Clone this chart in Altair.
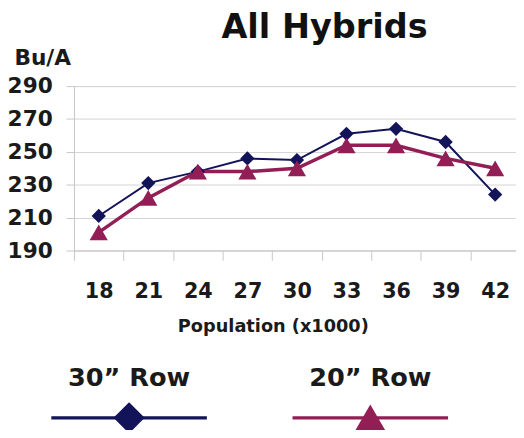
import altair as alt
import pandas as pd

populations = [18, 21, 24, 27, 30, 33, 36, 39, 42]
row30 = [211, 231, 238, 246, 245, 261, 264, 256, 224]
row20 = [201, 222, 238, 238, 240, 254, 254, 246, 240]
series_names = ['30\u201d Row', '20\u201d Row']
y_ticks = [190, 210, 230, 250, 270, 290]

NAVY = "#13135a"
MAROON = "#921e55"
FONT = "DejaVu Sans"

rows = []
for s, vals in zip(series_names, [row30, row20]):
    for p, v in zip(populations, vals):
        rows.append({"series": s, "pop": p, "yield": v})
df = pd.DataFrame(rows)
legend_df = pd.DataFrame({"series": series_names})

color_scale = alt.Scale(domain=series_names, range=[NAVY, MAROON])
shape_scale = alt.Scale(domain=series_names, range=["diamond", "triangle-up"])

x_enc = alt.X(
    "pop:O",
    scale=alt.Scale(type="band", paddingInner=0, paddingOuter=0, range=[0, 453]),
    bandPosition=0.5,
    axis=alt.Axis(
        title="Population (x1000)", labelAngle=0, tickBand="extent",
        tickSize=10, tickColor="#c8c8c8", domainColor="#c8c8c8",
        labelFont=FONT, labelFontWeight="bold", labelFontSize=21,
        labelColor="#1a1a1a", labelPadding=21,
        titleFont=FONT, titleFontWeight="bold", titleFontSize=18,
        titleColor="#1a1a1a", titlePadding=16, grid=False,
        titleX=202,
    ),
)
y_enc = alt.Y(
    "yield:Q",
    scale=alt.Scale(domain=[190, 290], nice=False, zero=False),
    axis=alt.Axis(
        values=y_ticks, title="Bu/A", grid=True, gridColor="#d4d4d4",
        domainColor="#c8c8c8", tickColor="#c8c8c8", tickSize=8,
        labelFont=FONT, labelFontWeight="bold", labelFontSize=22,
        labelColor="#1a1a1a", labelPadding=14,
        titleFont=FONT, titleFontWeight="bold", titleFontSize=22,
        titleColor="#1a1a1a", titleAngle=0, titleAlign="left",
        titleBaseline="alphabetic", titleX=-61, titleY=-22,
    ),
)

lines = alt.Chart(df).mark_line().encode(
    x=x_enc, y=y_enc,
    color=alt.Color("series:N", scale=color_scale, legend=None),
    strokeWidth=alt.StrokeWidth("series:N", scale=alt.Scale(domain=series_names, range=[2, 3.5]), legend=None),
)
points = alt.Chart(df).mark_point(filled=True, opacity=1).encode(
    x=x_enc, y=y_enc,
    color=alt.Color("series:N", scale=color_scale, legend=None),
    shape=alt.Shape("series:N", scale=shape_scale, legend=None),
    size=alt.Size("series:N", scale=alt.Scale(domain=series_names, range=[210, 340]), legend=None),
)
main = alt.layer(lines, points)

leg_x = alt.X("series:N", scale=alt.Scale(type="point", domain=series_names, range=[56, 301], padding=0), axis=None)
leg_text = alt.Chart(legend_df).mark_text(
    font=FONT, fontWeight="bold", fontSize=26, color="#1a1a1a", baseline="middle", align="center"
).encode(x=leg_x, y=alt.value(297), text="series:N")
leg_line = alt.Chart(legend_df).mark_tick(orient="horizontal", size=158, thickness=3.5, opacity=1).encode(
    x=leg_x, y=alt.value(337),
    color=alt.Color("series:N", scale=color_scale, legend=None),
)
leg_pt = alt.Chart(legend_df).mark_point(filled=True, opacity=1).encode(
    x=leg_x, y=alt.value(337),
    color=alt.Color("series:N", scale=color_scale, legend=None),
    shape=alt.Shape("series:N", scale=shape_scale, legend=None),
    size=alt.value(1000),
)
legend = alt.layer(leg_line, leg_pt, leg_text)

chart = alt.layer(main, legend).resolve_scale(x="independent").properties(
    width=449, height=167,
    autosize=alt.AutoSizeParams(type="none"),
    padding={"left": 67, "top": 76, "right": 0, "bottom": 179},
    title=alt.TitleParams(
        "All Hybrids", font=FONT, fontWeight="bold", fontSize=34, color="#111111",
        anchor="middle", frame="group", dx=30, offset=2,
    ),
).configure_view(stroke=None).configure(background="white")

chart.save("out.html", embed_options={"renderer": "svg", "actions": False})
